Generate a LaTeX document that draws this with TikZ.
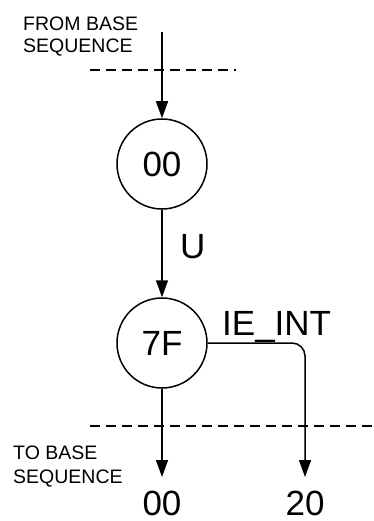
\documentclass[tikz,border=0pt]{standalone}
\usepackage{fontspec}
\setmainfont{Liberation Sans}
\usetikzlibrary{arrows.meta}
\begin{document}
\begin{tikzpicture}[x=1pt,y=-1pt,
  state/.style={circle,draw,line width=1.5pt,minimum size=90pt,inner sep=0pt,font=\fontsize{35}{35}\selectfont},
  conn/.style={line width=1.5pt,-{Triangle[width=12pt,length=17pt]}},
  sep/.style={line width=1.2pt,dash pattern=on 10pt off 6pt},
  small/.style={inner sep=0pt,anchor=base west,font=\fontsize{19.5}{22}\selectfont},
  big/.style={inner sep=0pt,font=\fontsize{35}{35}\selectfont}]
\useasboundingbox (0,0) rectangle (373,521);
\node[small] (from1) at (23,31) {FROM BASE};
\node[small] (from2) at (23,53) {SEQUENCE};
\node[small] (to1) at (13,459) {TO BASE};
\node[small] (to2) at (13,483) {SEQUENCE};
\coordinate (start) at (162,32);
\node[state] (s00) at (162,164) {00};
\node[state] (s7F) at (162,343) {7F};
\node[big,anchor=base west] (lu) at (180,258) {U};
\node[big,anchor=base west] (lie) at (222,335) {IE\_INT};
\node[big,anchor=base] (o00) at (162,515) {00};
\node[big,anchor=base] (o20) at (305,515) {20};
\coordinate (d1a) at (90,70);
\coordinate (d1b) at (236,70);
\coordinate (d2a) at (90,426);
\coordinate (d2b) at (373,426);
\coordinate (t00) at (162,477);
\coordinate (t20) at (305,477);
\draw[sep] (d1a) -- (d1b);
\draw[sep] (d2a) -- (d2b);
\draw[conn] (start) -- (s00.north);
\draw[conn] (s00.south) -- (s7F.north);
\draw[conn] (s7F.south) -- (t00);
\draw[conn,rounded corners=13pt] (s7F.east) -| (t20);
\end{tikzpicture}
\end{document}
